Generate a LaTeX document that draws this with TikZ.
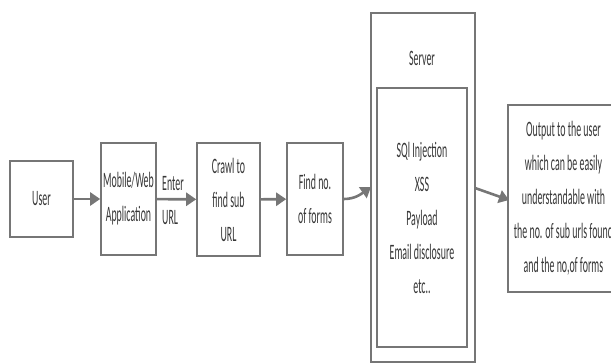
\documentclass[tikz,border=0pt]{standalone}
\usepackage{fontspec}
\setmainfont{Carlito}[FakeStretch=0.45]
\usetikzlibrary{arrows.meta}
\definecolor{linegray}{RGB}{118,118,118}
\definecolor{textgray}{RGB}{55,55,55}
\begin{document}
\begin{tikzpicture}[x=1pt,y=-1pt,
	every node/.style={font=\fontsize{22}{34}\selectfont,text=textgray},
	box/.style={draw=linegray,line width=1.6pt,align=center,inner sep=0pt},
	flow/.style={-{Triangle[length=10pt,width=13pt]},draw=linegray,line width=2.6pt}]
	\useasboundingbox (0,0) rectangle (611,364);
	\node [box,minimum width=63pt,minimum height=76pt] (user) at (41.5,199) {User};
	\node [box,minimum width=55pt,minimum height=112pt] (app) at (128.5,199) {Mobile/Web\\Application};
	\node [align=left,anchor=west,inner sep=0pt] (enter) at (162,201) {Enter\\URL};
	\node [box,minimum width=63pt,minimum height=113pt] (crawl) at (228.5,199.5) {Crawl to\\find sub\\URL};
	\node [box,minimum width=56pt,minimum height=112pt] (forms) at (315,199) {Find no.\\of forms};
	\node [box,minimum width=104pt,minimum height=349pt] (server) at (423,187.5) {};
	\node (srvlabel) at (422,58) {Server};
	\node [box,minimum width=90pt,minimum height=259pt] (attacks) at (422,217.5) {SQl Injection\\XSS\\Payload\\Email disclosure\\etc..};
	\node [box,minimum width=111pt,minimum height=187pt] (output) at (563.5,198.5) {Output to the user\\which can be easily\\understandable with\\the no. of sub urls found\\and the no,of forms};
	\coordinate (srvin) at (371,187);
	\coordinate (srvout) at (475,188);
	\coordinate (outin) at (509,200);
	\draw [flow] (user) -- (app);
	\draw [flow] (app) -- (crawl);
	\draw [flow] (crawl) -- (forms);
	\draw [flow] (forms.east) to [out=0,in=215] (srvin);
	\draw [flow] (srvout) -- (outin);
\end{tikzpicture}
\end{document}
